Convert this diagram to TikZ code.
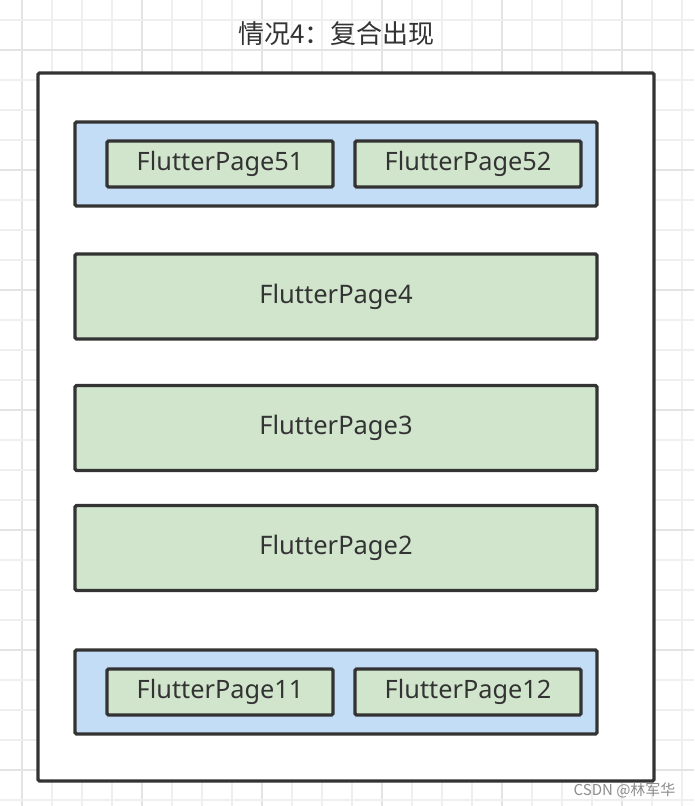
\documentclass[tikz,border=0pt]{standalone}
\usepackage{fontspec}
\setmainfont{Noto Sans}
\newfontfamily\cjkfont{Noto Sans CJK SC}
\definecolor{gridc}{HTML}{EFEFEF}
\definecolor{gridt}{HTML}{E4E4E4}
\definecolor{edgec}{HTML}{333333}
\definecolor{bluef}{HTML}{C4DDF6}
\definecolor{greenf}{HTML}{D0E5CC}
\definecolor{txtc}{HTML}{333333}
\tikzset{
  box/.style={draw=edgec, line width=3.2pt, rounded corners=1.5pt, inner sep=0pt, anchor=center},
  outerbox/.style={box, fill=white, minimum width=616pt, minimum height=708pt},
  groupbox/.style={box, fill=bluef, minimum width=522pt, minimum height=84pt},
  pagebox/.style={box, fill=greenf, minimum width=522pt, minimum height=85pt, text=txtc, font=\fontsize{25.5}{28}\selectfont},
  smallpage/.style={box, fill=greenf, minimum width=226pt, minimum height=46pt, text=txtc, font=\fontsize{25.3}{28}\selectfont},
}
\begin{document}
\begin{tikzpicture}[x=1pt,y=-1pt]
\useasboundingbox (0,0) rectangle (694,806);
\fill[white] (0,0) rectangle (694,806);
% grid
\foreach \k in {0,...,22} {
  \pgfmathsetmacro{\gx}{22+30*\k}
  \pgfmathtruncatemacro{\m}{mod(\k,4)}
  \ifnum\m=0
    \draw[gridt, line width=1.6pt] (\gx,0) -- (\gx,806);
  \else
    \draw[gridc, line width=1.2pt] (\gx,0) -- (\gx,806);
  \fi
}
\foreach \k in {0,...,26} {
  \pgfmathsetmacro{\gy}{20+30*\k}
  \pgfmathtruncatemacro{\m}{mod(\k,4)}
  \ifnum\m=1
    \draw[gridt, line width=1.6pt] (0,\gy) -- (694,\gy);
  \else
    \draw[gridc, line width=1.2pt] (0,\gy) -- (694,\gy);
  \fi
}
\node[text=txtc, font=\cjkfont\fontsize{26}{28}\selectfont] (title) at (336.5,34) {情况4：复合出现};
\node[outerbox] (outer) at (346,427) {};
\node[groupbox] (g5) at (336,164) {};
\node[smallpage] (p51) at (220,164) {FlutterPage51};
\node[smallpage] (p52) at (468,164) {FlutterPage52};
\node[pagebox] (p4) at (336,296.5) {FlutterPage4};
\node[pagebox] (p3) at (336,428) {FlutterPage3};
\node[pagebox] (p2) at (336,548) {FlutterPage2};
\node[groupbox] (g1) at (336,692) {};
\node[smallpage] (p11) at (220,692) {FlutterPage11};
\node[smallpage] (p12) at (468,692) {FlutterPage12};
\node[text=black!45, font=\cjkfont\fontsize{15}{17}\selectfont, anchor=east] (wm) at (679,790) {CSDN @林军华};
\end{tikzpicture}
\end{document}
